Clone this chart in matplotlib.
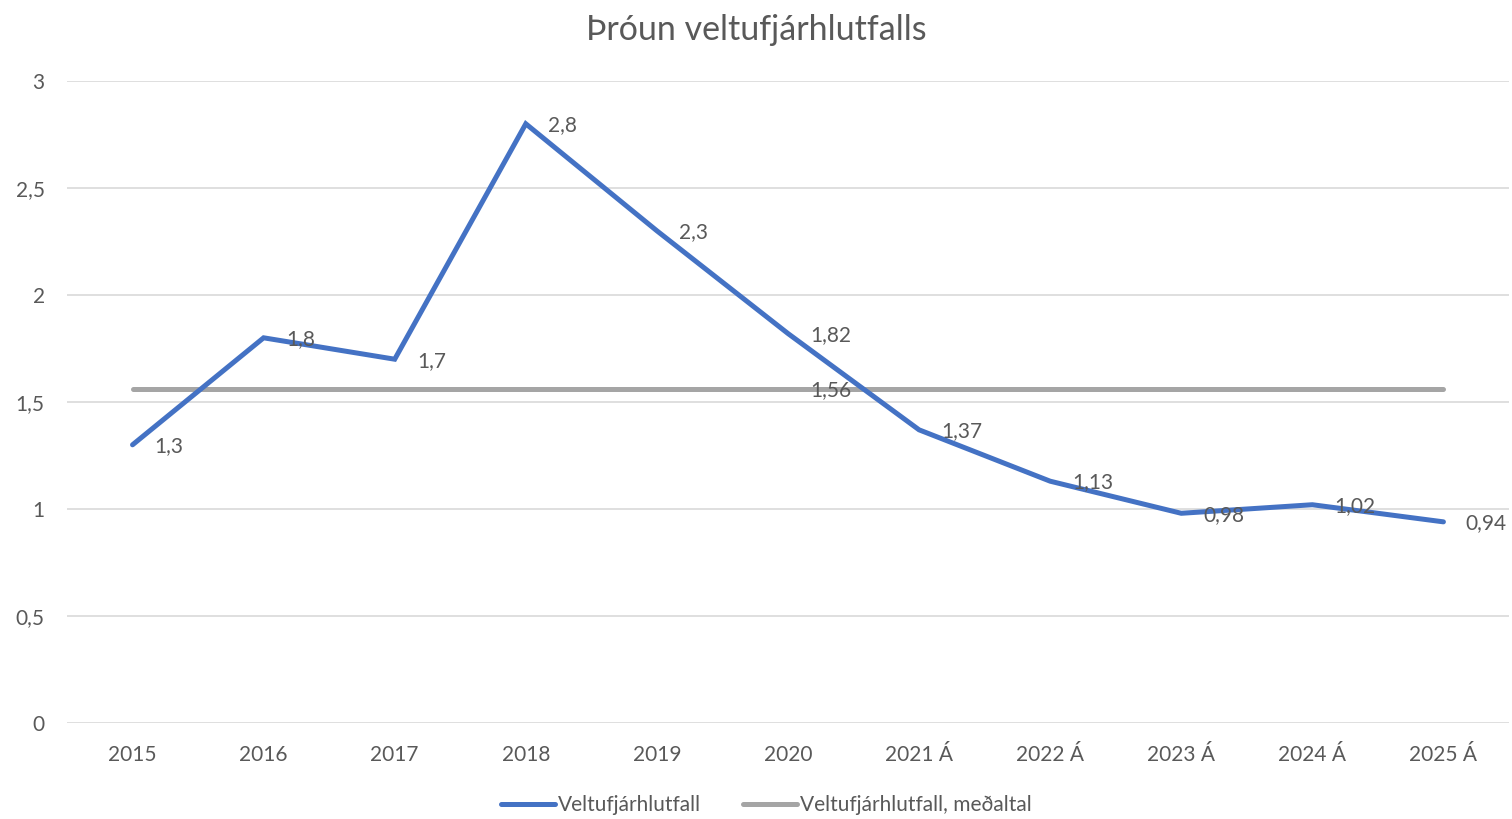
import matplotlib
matplotlib.use("Agg")
import matplotlib.pyplot as plt

# data
years = ["2015", "2016", "2017", "2018", "2019", "2020",
         "2021 Á", "2022 Á", "2023 Á", "2024 Á", "2025 Á"]
ratio = [1.3, 1.8, 1.7, 2.8, 2.3, 1.82, 1.37, 1.13, 0.98, 1.02, 0.94]
ratio_labels = ["1,3", "1,8", "1,7", "2,8", "2,3", "1,82", "1,37", "1,13", "0,98", "1,02", "0,94"]
average = [1.56] * len(years)
average_label = "1,56"
yticks = [0, 0.5, 1, 1.5, 2, 2.5, 3]
ytick_labels = ["0", "0,5", "1", "1,5", "2", "2,5", "3"]

BLUE = "#4472C4"
GREY = "#A5A5A5"
TEXT = "#595959"
FS = 15

plt.rcParams["font.family"] = ["Lato", "DejaVu Sans"]

fig = plt.figure(figsize=(15.12, 8.19), dpi=100)
ax = fig.add_axes([0.0443, 0.1172, 0.9537, 0.7839])

x = list(range(len(years)))
ax.plot(x, ratio, color=BLUE, lw=3.6, solid_capstyle="round",
        solid_joinstyle="miter", label="Veltufjárhlutfall", zorder=3)
ax.plot(x, average, color=GREY, lw=3.6, solid_capstyle="round",
        label="Veltufjárhlutfall, meðaltal", zorder=2)

# data labels, placed to the right of each point
for xi, yi, lab in zip(x, ratio, ratio_labels):
    ax.annotate(lab, (xi, yi), xytext=(16, -1), textcoords="offset points",
                ha="left", va="center", fontsize=FS, color=TEXT, zorder=4)
mid = 5
ax.annotate(average_label, (mid, average[mid]), xytext=(16, -1),
            textcoords="offset points", ha="left", va="center",
            fontsize=FS, color=TEXT, zorder=4)

ax.set_xlim(-0.5, len(years) - 0.5)
ax.set_ylim(0, 3)
ax.set_xticks(x)
ax.set_xticklabels(years)
ax.set_yticks(yticks)
ax.set_yticklabels(ytick_labels)
ax.tick_params(axis="both", length=0, labelsize=FS, labelcolor=TEXT)
ax.tick_params(axis="x", pad=16)
ax.tick_params(axis="y", pad=16)
ax.grid(axis="y", color="#D9D9D9", lw=1.2)
ax.set_axisbelow(True)
for s in ax.spines.values():
    s.set_visible(False)

fig.suptitle("Þróun veltufjárhlutfalls", y=0.983, fontsize=24.5, color=TEXT)

fig.legend(loc="lower center", bbox_to_anchor=(0.507, -0.018), ncol=2,
           frameon=False, fontsize=FS, labelcolor=TEXT, handlelength=2.6,
           handletextpad=0.15, columnspacing=2.0)

fig.savefig("out.png", dpi=100)
